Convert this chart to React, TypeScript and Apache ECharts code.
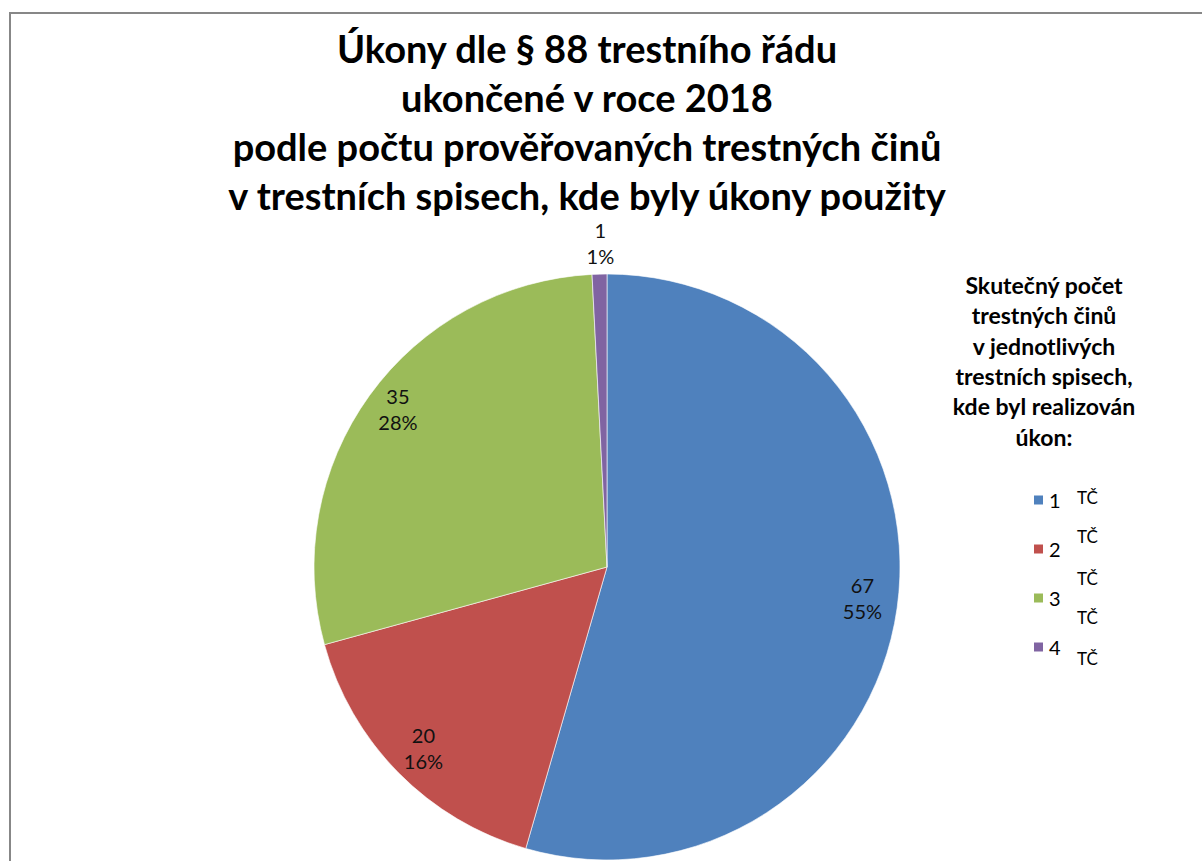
import React, { useEffect, useRef } from "react";
import * as echarts from "echarts";

const categories = ["1", "2", "3", "4"];
const values = [67, 20, 35, 1];
const colors = ["#4F81BD", "#C0504D", "#9BBB59", "#8064A2"];
const titleLines = [
  "Úkony dle § 88 trestního řádu",
  "ukončené v roce 2018",
  "podle počtu prověřovaných trestných činů",
  "v trestních spisech, kde byly úkony použity",
];
const legendTitleLines = [
  "Skutečný počet",
  "trestných činů",
  "v jednotlivých",
  "trestních spisech,",
  "kde byl realizován",
  "úkon:",
];
const unitLabels = ["TČ", "TČ", "TČ", "TČ", "TČ"];

const FONT = "Lato, 'Open Sans', sans-serif";

export default function App() {
  const ref = useRef<HTMLDivElement>(null);
  useEffect(() => {
    if (!ref.current) return;
    const chart = echarts.init(ref.current, undefined, { renderer: "svg" });
    const data = categories.map((c, i) => ({
      name: c,
      value: values[i],
      itemStyle: { color: colors[i] },
    }));
    const unitY = [497, 536, 578, 617, 658];
    const titleLH = 36;
    chart.setOption({
      animation: false,
      backgroundColor: "#ffffff",
      title: [
        ...titleLines.map((t, i) => ({
          text: t,
          left: 587,
          top: 47.8 + i * 49.2 - titleLH / 2,
          textAlign: "center",
          padding: 0,
          textStyle: {
            fontFamily: FONT,
            fontWeight: "bold",
            fontSize: 38,
            lineHeight: titleLH,
            color: "#000",
          },
        })),
        {
          text: legendTitleLines.join("\n"),
          left: 1044,
          top: 270,
          textAlign: "center",
          padding: 0,
          textStyle: {
            fontFamily: FONT,
            fontWeight: "bold",
            fontSize: 23,
            lineHeight: 30.3,
            color: "#000",
          },
        },
      ],
      legend: {
        orient: "vertical",
        left: 1032,
        top: 489,
        padding: 0,
        icon: "rect",
        itemWidth: 11,
        itemHeight: 11,
        itemGap: 27,
        data: categories,
        textStyle: {
          fontFamily: FONT,
          fontSize: 20,
          lineHeight: 22,
          color: "#000",
        },
      },
      graphic: [
        {
          type: "rect",
          shape: { x: 10, y: 13, width: 1400, height: 1000 },
          style: { fill: "none", stroke: "#878787", lineWidth: 2 },
          silent: true,
        },
        ...unitLabels.map((t, i) => ({
          type: "text",
          x: 1077,
          y: unitY[i],
          style: {
            text: t,
            fontFamily: FONT,
            fontSize: 17,
            fill: "#000",
            verticalAlign: "middle",
          },
          silent: true,
        })),
      ],
      series: [
        {
          type: "pie",
          center: [607, 567],
          radius: [0, 293],
          startAngle: 90,
          clockwise: true,
          data,
          label: { show: false },
          labelLine: { show: false },
          itemStyle: { borderColor: "#ffffff", borderWidth: 0.6 },
          emphasis: { disabled: true },
        },
        {
          type: "pie",
          center: [607, 567],
          radius: [217, 293],
          startAngle: 90,
          clockwise: true,
          silent: true,
          percentPrecision: 0,
          data: categories.map((c, i) => ({ name: c, value: values[i] })),
          itemStyle: { color: "rgba(0,0,0,0)" },
          label: {
            show: true,
            position: "inside",
            formatter: (p: any) => `${p.value}\n${p.percent}%`,
            fontFamily: FONT,
            fontSize: 20,
            lineHeight: 26,
            color: "#111",
          },
          labelLine: { show: false },
          labelLayout: (p: any) => {
            if (p.dataIndex === 3) return { dy: -66 };
            if (p.dataIndex === 2) return { dy: -7 };
            if (p.dataIndex === 0) return { dy: -5 };
            return {};
          },
          emphasis: { disabled: true },
        },
      ],
    });
    return () => chart.dispose();
  }, []);
  return (
    <div
      ref={ref}
      style={{ position: "fixed", left: 0, top: 0, width: 1202, height: 861 }}
    />
  );
}
